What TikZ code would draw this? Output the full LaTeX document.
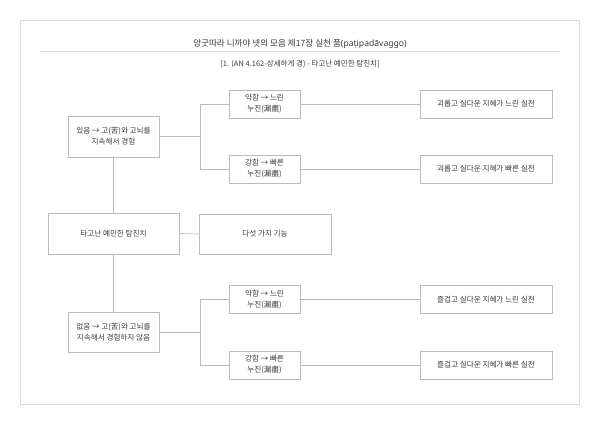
\documentclass[tikz,border=0pt]{standalone}
\usepackage{fontspec}
\setmainfont{Noto Sans CJK KR}
\newfontfamily\latinfont{Noto Sans}
\definecolor{txt}{HTML}{3A3A3A}
\definecolor{edge}{HTML}{BBBBBB}
\definecolor{frame}{HTML}{DADADA}
\begin{document}
\begin{tikzpicture}[x=1pt,y=-1pt,
  box/.style={draw=edge,line width=0.75pt,fill=white,text=txt,inner sep=0pt,align=center,
    font=\fontsize{7.6}{11}\selectfont},
  conn/.style={draw=edge,line width=0.7pt},
  lbl/.style={text=txt,inner sep=0pt}]
\useasboundingbox (0,0) rectangle (600,425);
\draw[frame,line width=0.7pt] (20,20) rectangle (579,404);
\node[lbl,font=\fontsize{8.6}{10}\selectfont] (title) at (300,44) {앙굿따라 니까야 넷의 모음 제17장 실천 품{\latinfont(paṭipadāvaggo)}};
\coordinate (ruleL) at (40,51);
\coordinate (ruleR) at (560,51);
\draw[frame,line width=0.8pt] (ruleL) -- (ruleR);
\node[lbl,font=\fontsize{7.5}{10}\selectfont] (sub) at (300,64) {[1. (AN 4.162-상세하게 경) - 타고난 예민한 탐진치]};

\node[box,minimum width=91,minimum height=41] (n1) at (113.5,136.5) {있음 → 고(苦)와 고뇌를\\지속해서 경험};
\node[box,minimum width=131,minimum height=41] (main) at (113.5,233.5) {타고난 예민한 탐진치};
\node[box,minimum width=132,minimum height=40] (five) at (265,234) {다섯 가지 기능};
\node[box,minimum width=91,minimum height=40] (n2) at (113.5,332) {없음 → 고(苦)와 고뇌를\\지속해서 경험하지 않음};

\node[box,minimum width=71,minimum height=28] (s1) at (264.5,104) {약함 → 느린\\누진(漏盡)};
\node[box,minimum width=71,minimum height=28] (s2) at (264.5,169) {강함 → 빠른\\누진(漏盡)};
\node[box,minimum width=71,minimum height=28] (s3) at (264.5,299.5) {약함 → 느린\\누진(漏盡)};
\node[box,minimum width=71,minimum height=28] (s4) at (264.5,365) {강함 → 빠른\\누진(漏盡)};

\node[box,minimum width=132,minimum height=28] (r1) at (486,104) {괴롭고 실다운 지혜가 느린 실천};
\node[box,minimum width=132,minimum height=28] (r2) at (486,169) {괴롭고 실다운 지혜가 빠른 실천};
\node[box,minimum width=132,minimum height=28] (r3) at (486,299.5) {즐겁고 실다운 지혜가 느린 실천};
\node[box,minimum width=132,minimum height=28] (r4) at (486,365) {즐겁고 실다운 지혜가 빠른 실천};

\coordinate (b1) at (200,136.5);
\coordinate (b2) at (200,332);
\draw[conn] (n1.south) -- (main.north);
\draw[conn] (main.south) -- (n2.north);
\draw[conn] (main.east) -- (five.west);
\draw[conn] (n1.east) -- (b1);
\draw[conn] (b1) |- (s1.west);
\draw[conn] (b1) |- (s2.west);
\draw[conn] (n2.east) -- (b2);
\draw[conn] (b2) |- (s3.west);
\draw[conn] (b2) |- (s4.west);
\draw[conn] (s1.east) -- (r1.west);
\draw[conn] (s2.east) -- (r2.west);
\draw[conn] (s3.east) -- (r3.west);
\draw[conn] (s4.east) -- (r4.west);
\end{tikzpicture}
\end{document}
